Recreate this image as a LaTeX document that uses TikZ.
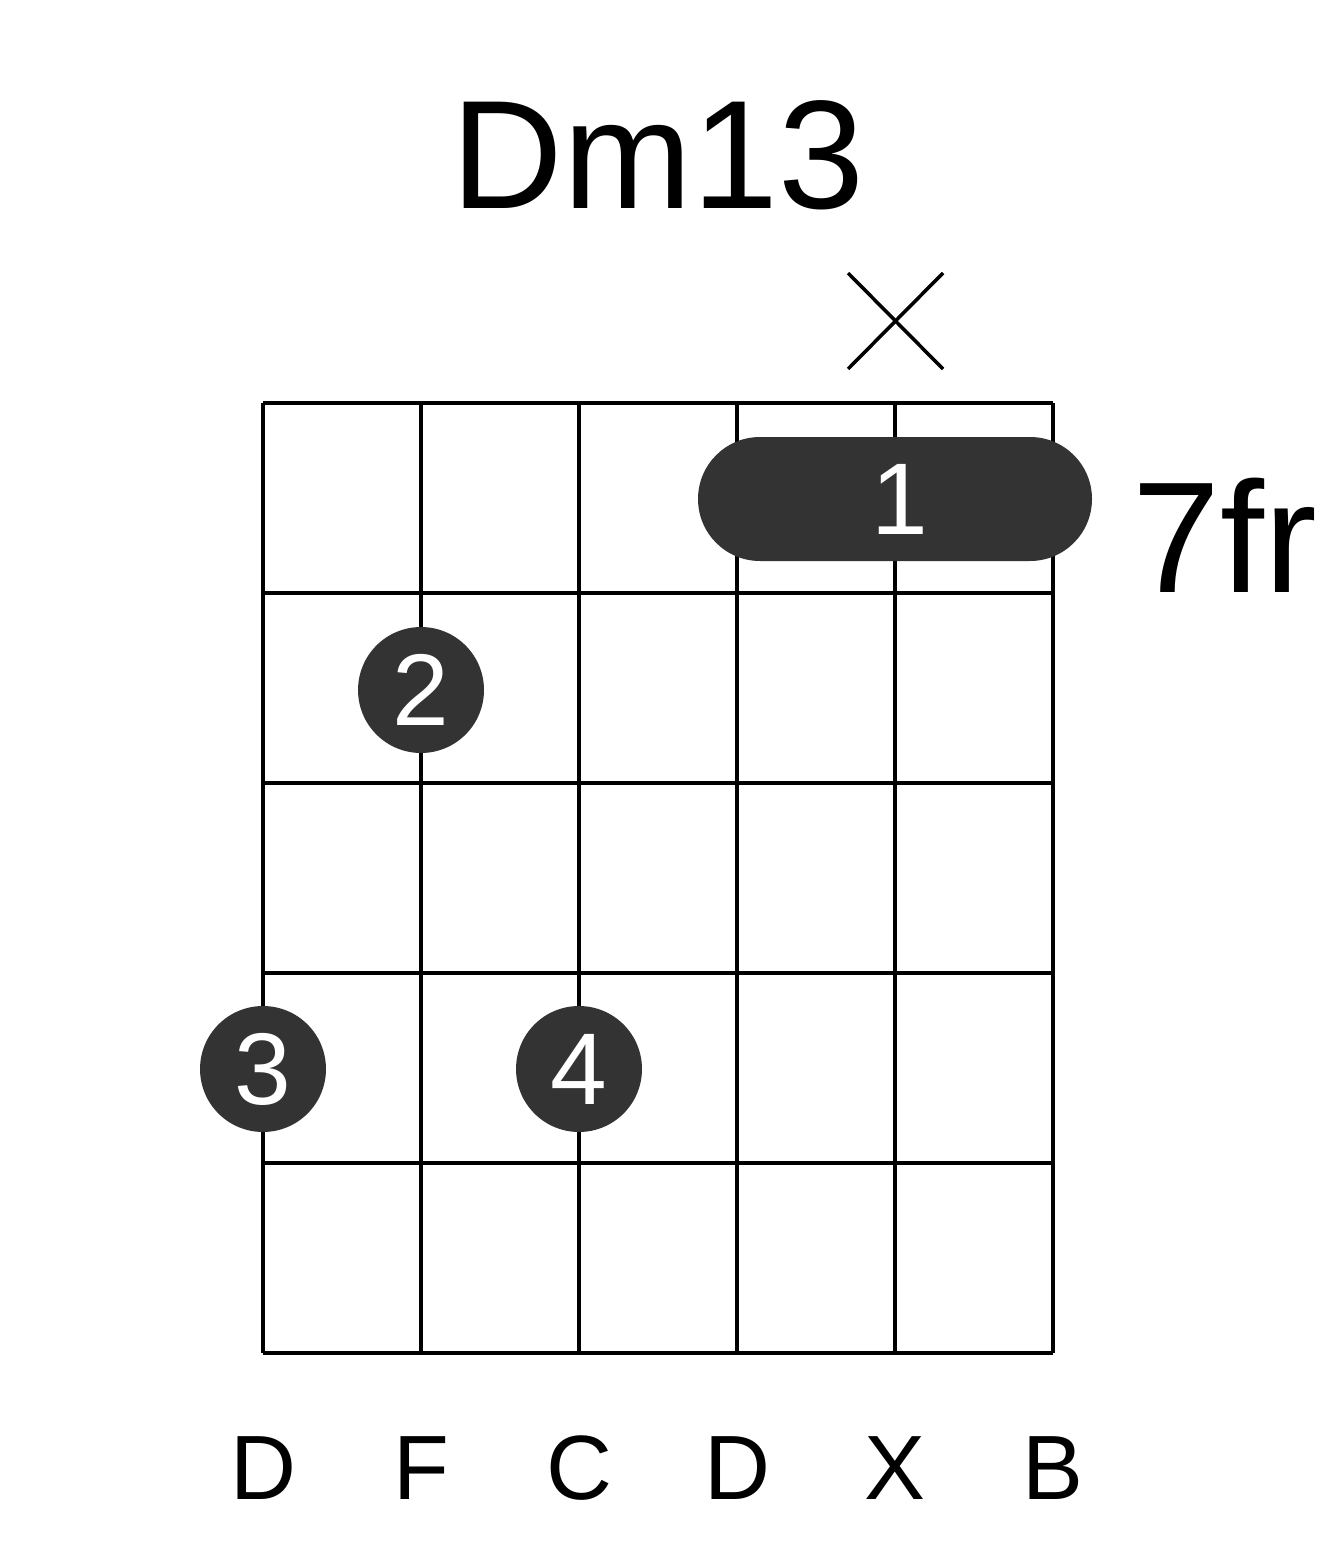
\documentclass[tikz,border=0pt]{standalone}
\usepackage{fontspec}
\setmainfont{Liberation Sans}
\definecolor{dotgray}{HTML}{333333}
\tikzset{
  finger/.style={circle,fill=dotgray,minimum size=2.52cm,inner sep=0pt,text=white,font=\fontsize{58}{58}\selectfont},
  strname/.style={font=\fontsize{52}{52}\selectfont}
}
\begin{document}
\begin{tikzpicture}[x=0.02cm,y=-0.02cm,line width=2.3pt]
\useasboundingbox (0,0) rectangle (1317,1551);
\node (title) at (658,155) {\fontsize{88}{88}\selectfont Dm13};
% grid
\foreach \i in {0,...,5} {
\draw (263+158*\i,403)--(263+158*\i,1353);
\draw (263,403+190*\i)--(1053,403+190*\i);
};
% muted string
\coordinate (xa) at (848,273); \coordinate (xb) at (943,369);
\coordinate (xc) at (943,273); \coordinate (xd) at (848,369);
\draw[line width=2pt] (xa)--(xb) (xc)--(xd);
% barre
\fill[dotgray,rounded corners=1.24cm] (698,437) rectangle (1092,561);
\node[text=white,font=\fontsize{58}{58}\selectfont] (one) at (900,499) {1};
\node[anchor=west,font=\fontsize{90}{90}\selectfont] (fret) at (1125,535) {7fr};
% fingers
\node[finger] (two) at (421,690) {2};
\node[finger] (three) at (263,1069) {3};
\node[finger] (four) at (579,1069) {4};
% string names
\foreach \n [count=\i from 0] in {D,F,C,D,X,B}
\node[strname] (s\i) at (263+158*\i,1468) {\n};
\end{tikzpicture}
\end{document}
